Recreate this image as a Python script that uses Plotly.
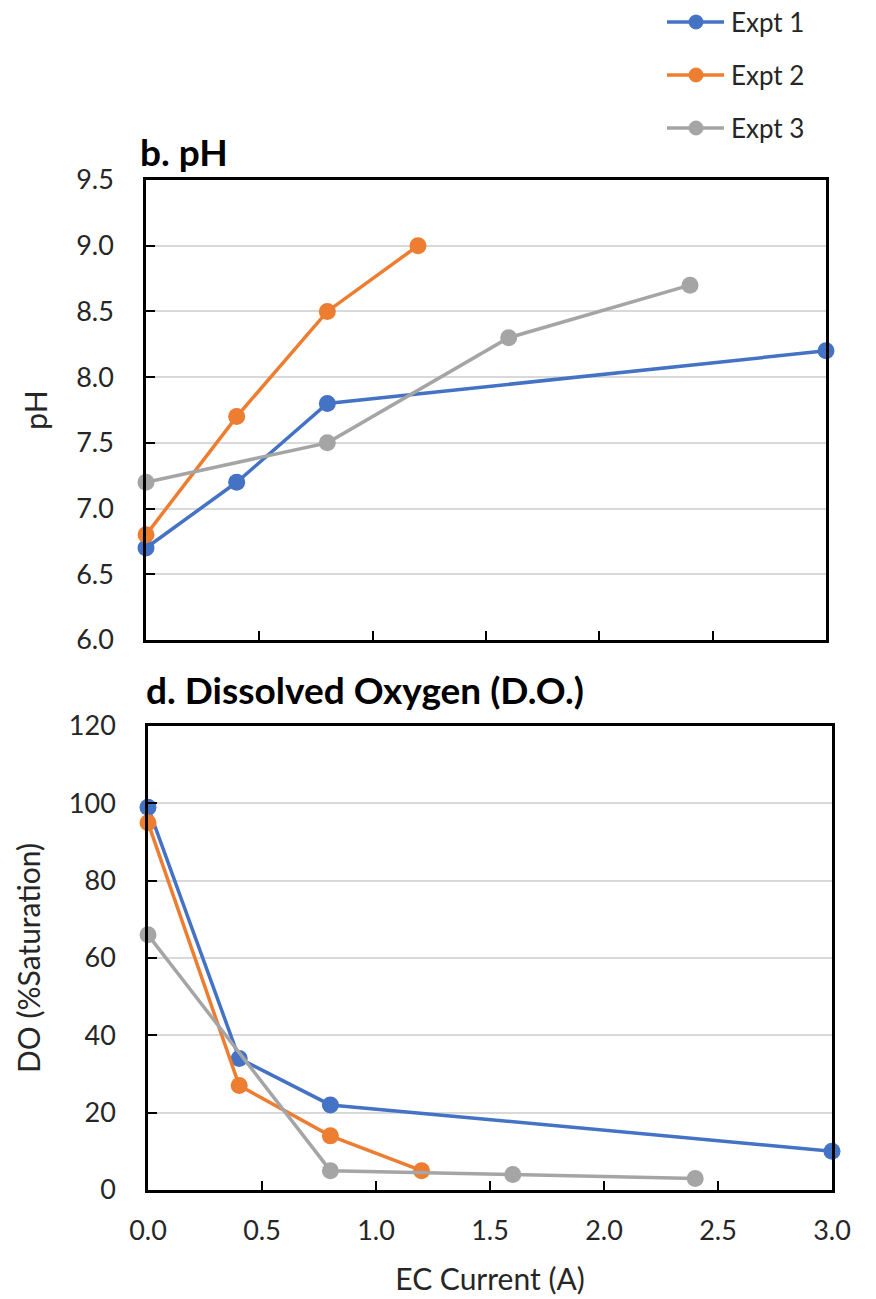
import plotly.graph_objects as go

# Data
expt_names = ["Expt 1", "Expt 2", "Expt 3"]
colors = ["#4472C4", "#ED7D31", "#A5A5A5"]

ph_x1 = [0.0, 0.4, 0.8, 3.0]
ph_y1 = [6.7, 7.2, 7.8, 8.2]
ph_x2 = [0.0, 0.4, 0.8, 1.2]
ph_y2 = [6.8, 7.7, 8.5, 9.0]
ph_x3 = [0.0, 0.8, 1.6, 2.4]
ph_y3 = [7.2, 7.5, 8.3, 8.7]

do_x1 = [0.0, 0.4, 0.8, 3.0]
do_y1 = [99, 34, 22, 10]
do_x2 = [0.0, 0.4, 0.8, 1.2]
do_y2 = [95, 27, 14, 5]
do_x3 = [0.0, 0.8, 1.6, 2.4]
do_y3 = [66, 5, 4, 3]

ph_ticks = [6.0, 6.5, 7.0, 7.5, 8.0, 8.5, 9.0, 9.5]
do_ticks = [0, 20, 40, 60, 80, 100, 120]
x_ticks = [0.0, 0.5, 1.0, 1.5, 2.0, 2.5, 3.0]

W, H = 876, 1299
FONT = "Lato"
TXT = "#262626"

fig = go.Figure()
ph_series = [(ph_x1, ph_y1), (ph_x2, ph_y2), (ph_x3, ph_y3)]
do_series = [(do_x1, do_y1), (do_x2, do_y2), (do_x3, do_y3)]
for i, (xs, ys) in enumerate(ph_series):
    fig.add_trace(go.Scatter(x=xs, y=ys, mode="lines+markers", name=expt_names[i],
                             line=dict(color=colors[i], width=3.5),
                             marker=dict(color=colors[i], size=17),
                             xaxis="x", yaxis="y", showlegend=False, cliponaxis=False))
for i, (xs, ys) in enumerate(do_series):
    fig.add_trace(go.Scatter(x=xs, y=ys, mode="lines+markers", name=expt_names[i],
                             line=dict(color=colors[i], width=3.5),
                             marker=dict(color=colors[i], size=17),
                             xaxis="x2", yaxis="y2", showlegend=False, cliponaxis=False))

def py(p):
    return (H - p) / H

def px(p):
    return p / W

axis_common = dict(showline=True, linecolor="black", linewidth=2.5, mirror=True,
                   ticks="inside", ticklen=9, tickwidth=2, tickcolor="black",
                   zeroline=False, automargin=False,
                   tickfont=dict(family=FONT, size=27, color=TXT))
title_font = dict(family=FONT, size=30, color=TXT)

# Legend drawn as decoration (line + dot + label)
legend_rows = [22, 75, 128]
shapes = []
annotations = []
for i, yc in enumerate(legend_rows):
    shapes.append(dict(type="line", xref="paper", yref="paper",
                       x0=px(667), x1=px(724), y0=py(yc), y1=py(yc),
                       line=dict(color=colors[i], width=3.5)))
    shapes.append(dict(type="circle", xref="paper", yref="paper",
                       x0=px(689), x1=px(703), y0=py(yc + 7), y1=py(yc - 7),
                       fillcolor=colors[i], line=dict(color=colors[i], width=1)))
    annotations.append(dict(text=expt_names[i], x=px(729), y=py(yc), xref="paper", yref="paper",
                            xanchor="left", yanchor="middle", showarrow=False,
                            font=dict(family=FONT, size=26, color=TXT)))

annotations += [
    dict(text="<b>b. pH</b>", x=px(138), y=py(151), xref="paper", yref="paper",
         xanchor="left", yanchor="middle", showarrow=False,
         font=dict(family=FONT, size=37, color="black")),
    dict(text="<b>d. Dissolved Oxygen (D.O.)</b>", x=px(144), y=py(689), xref="paper", yref="paper",
         xanchor="left", yanchor="middle", showarrow=False,
         font=dict(family=FONT, size=37, color="black")),
]

fig.update_layout(
    width=W, height=H,
    margin=dict(l=0, r=0, t=0, b=0),
    paper_bgcolor="white", plot_bgcolor="white",
    font=dict(family=FONT, color=TXT),
    showlegend=False,
    xaxis=dict(domain=[px(146), px(826)], range=[0, 3.0], tickvals=x_ticks,
               showticklabels=False, showgrid=False, anchor="y", **axis_common),
    yaxis=dict(domain=[py(640), py(180)], range=[6.0, 9.5], tickvals=ph_ticks,
               tickformat=".1f", showgrid=True, gridcolor="#D9D9D9", gridwidth=2,
               anchor="x", ticklabelstandoff=24,
               title=dict(text="pH", font=title_font, standoff=20),
               **axis_common),
    xaxis2=dict(domain=[px(148), px(832)], range=[0, 3.0], tickvals=x_ticks,
                tickformat=".1f", showgrid=False, anchor="y2", ticklabelstandoff=15,
                title=dict(text="EC Current (A)", font=title_font, standoff=24),
                **axis_common),
    yaxis2=dict(domain=[py(1190), py(726)], range=[0, 120], tickvals=do_ticks,
                showgrid=True, gridcolor="#D9D9D9", gridwidth=2, anchor="x2",
                ticklabelstandoff=24,
                title=dict(text="DO (%Saturation)", font=title_font, standoff=20),
                **axis_common),
    shapes=shapes,
    annotations=annotations,
)

fig.write_html("out.html")
